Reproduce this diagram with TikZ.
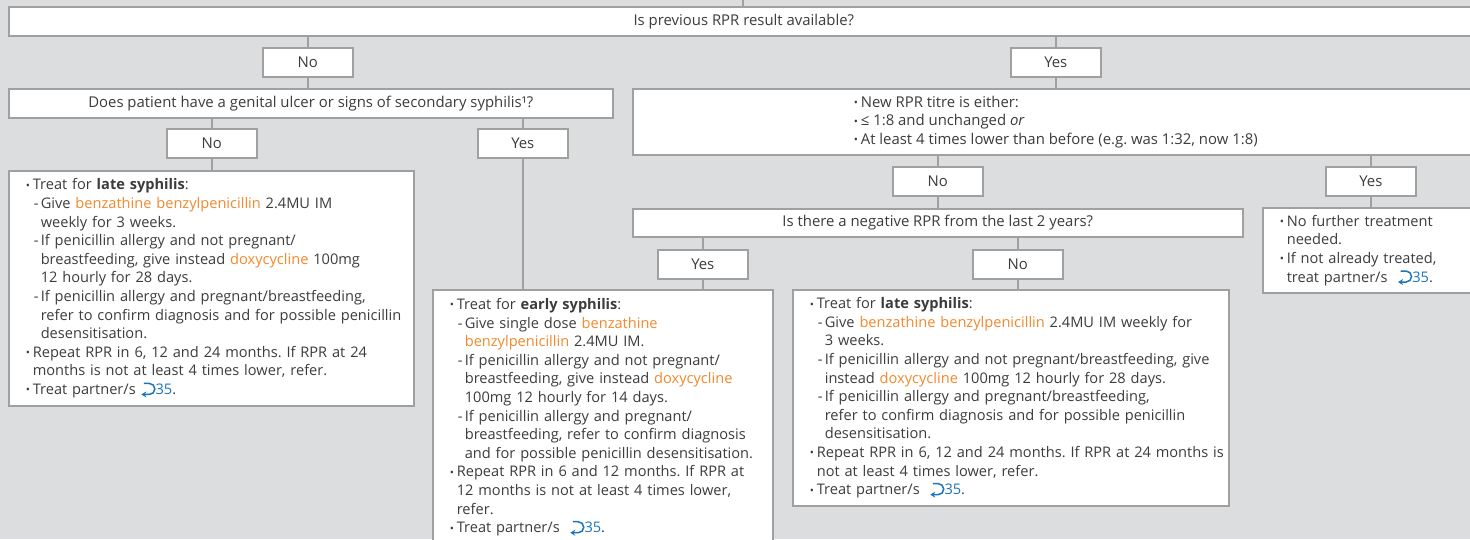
\documentclass[tikz,border=0pt]{standalone}
\usepackage{fontspec}
\setmainfont{Open Sans}
\usetikzlibrary{arrows.meta}
\definecolor{bg}{RGB}{220,221,223}
\definecolor{frame}{RGB}{160,160,160}
\definecolor{ink}{RGB}{60,60,62}
\definecolor{drug}{RGB}{243,137,44}
\definecolor{link}{RGB}{27,117,187}
\newcommand{\drug}[1]{\textcolor{drug}{#1}}
\newcommand{\bu}{\makebox[7pt][l]{\raisebox{0.6pt}{\fontsize{11}{11}\selectfont•}}}
\newcommand{\da}{\hspace*{8pt}\makebox[7pt][l]{-}}
\newcommand{\subind}{\hspace*{15pt}}
\newcommand{\buind}{\hspace*{7pt}}
\newcommand{\seepg}[1]{\tikz[baseline=0pt,x=1pt,y=1pt]\draw[link,line width=1.5pt,-{Stealth[length=5pt,width=6pt]}] (2.5,11) -- (8,11) arc[start angle=90,end angle=-90,radius=5.5] -- (0,0);\textcolor{link}{#1}}
\frenchspacing
\begin{document}
\begin{tikzpicture}[x=1pt,y=-1pt]
      \useasboundingbox (0,0) rectangle (1470,539);
      \fill[bg] (0,0) rectangle (1470,539);
      \begin{scope}[every node/.style={draw=frame,line width=1.6pt,fill=white,text=ink,
          font=\fontsize{14.9}{18.6}\selectfont,anchor=north west,inner sep=0pt},
          ask/.style={align=center,minimum height=29pt},
          ans/.style={minimum width=90pt,minimum height=29pt},
          note/.style={align=left,font=\fontsize{14.6}{18.6}\selectfont,
            execute at begin node={\leftskip=17pt\relax}}]
        \node[ask,minimum width=1470pt] (q1) at (8,6) {Is previous RPR result available?};
        \node[ans] (no1) at (262,47) {No};
        \node[ans] (yes1) at (1010,47) {Yes};
        \node[ask,minimum width=604pt] (q2) at (8,88) {Does patient have a genital ulcer or signs of secondary syphilis¹?};
        \node[ask,align=left,minimum width=846pt,minimum height=66pt] (q3) at (632,88) {\bu New RPR titre is either:\\
          \bu ≤ 1:8 and unchanged \textit{or}\\
          \bu At least 4 times lower than before (e.g. was 1:32, now 1:8)};
        \node[ans] (no2) at (166,128) {No};
        \node[ans] (yes2) at (477,128) {Yes};
        \node[ans] (no3) at (892,166) {No};
        \node[ans] (yes3) at (1325,166) {Yes};
        \node[note,text width=405pt,minimum height=235pt] (late1) at (8,170) {\bu Treat for \textbf{late syphilis}:\\
          \da Give \drug{benzathine benzylpenicillin} 2.4MU IM\\
          \subind weekly for 3 weeks.\\
          \da If penicillin allergy and not pregnant/\\
          \subind breastfeeding, give instead \drug{doxycycline} 100mg\\
          \subind 12 hourly for 28 days.\\
          \da If penicillin allergy and pregnant/breastfeeding,\\
          \subind refer to confirm diagnosis and for possible penicillin\\
          \subind desensitisation.\\
          \bu Repeat RPR in 6, 12 and 24 months. If RPR at 24\\
          \buind months is not at least 4 times lower, refer.\\
          \bu Treat partner/s \seepg{35}.};
        \node[note,text width=216pt,minimum height=85pt] (done) at (1262,207) {\bu No further treatment\\
          \buind needed.\\
          \bu If not already treated,\\
          \buind treat partner/s \ \seepg{35}.};
        \node[ask,minimum width=610pt,minimum height=28pt] (q4) at (632,208) {Is there a negative RPR from the last 2 years?};
        \node[ans] (yes4) at (657,249) {Yes};
        \node[ans] (no4) at (972,249) {No};
        \node[note,text width=340pt,minimum height=255pt] (early) at (432,289) {\bu Treat for \textbf{early syphilis}:\\
          \da Give single dose \drug{benzathine}\\
          \subind\drug{benzylpenicillin} 2.4MU IM.\\
          \da If penicillin allergy and not pregnant/\\
          \subind breastfeeding, give instead \drug{doxycycline}\\
          \subind 100mg 12 hourly for 14 days.\\
          \da If penicillin allergy and pregnant/\\
          \subind breastfeeding, refer to confirm diagnosis\\
          \subind and for possible penicillin desensitisation.\\
          \bu Repeat RPR in 6 and 12 months. If RPR at\\
          \buind 12 months is not at least 4 times lower,\\
          \buind refer.\\
          \bu Treat partner/s \ \seepg{35}.};
        \node[note,text width=436pt,minimum height=216pt] (late2) at (792,289) {\bu Treat for \textbf{late syphilis}:\\
          \da Give \drug{benzathine benzylpenicillin} 2.4MU IM weekly for\\
          \subind 3 weeks.\\
          \da If penicillin allergy and not pregnant/breastfeeding, give\\
          \subind instead \drug{doxycycline} 100mg 12 hourly for 28 days.\\
          \da If penicillin allergy and pregnant/breastfeeding,\\
          \subind refer to confirm diagnosis and for possible penicillin\\
          \subind desensitisation.\\
          \bu Repeat RPR in 6, 12 and 24 months. If RPR at 24 months is\\
          \buind not at least 4 times lower, refer.\\
          \bu Treat partner/s \ \seepg{35}.};
      \end{scope}
      \coordinate (top) at (743,0);
      \begin{scope}[every edge/.style={draw=frame,line width=2.6pt}]
        \path (top) edge (top |- q1.north);
        \path (no1) edge (no1 |- q1.south);
        \path (no1) edge (no1 |- q2.north);
        \path (yes1) edge (yes1 |- q1.south);
        \path (yes1) edge (yes1 |- q3.north);
        \path (no2) edge (no2 |- q2.south);
        \path (no2) edge (no2 |- late1.north);
        \path (yes2) edge (yes2 |- q2.south);
        \path (yes2) edge (yes2 |- early.north);
        \path (no3) edge (no3 |- q3.south);
        \path (no3) edge (no3 |- q4.north);
        \path (yes3) edge (yes3 |- q3.south);
        \path (yes3) edge (yes3 |- done.north);
        \path (yes4) edge (yes4 |- q4.south);
        \path (yes4) edge (yes4 |- early.north);
        \path (no4) edge (no4 |- q4.south);
        \path (no4) edge (no4 |- late2.north);
      \end{scope}
    \end{tikzpicture}
\end{document}
